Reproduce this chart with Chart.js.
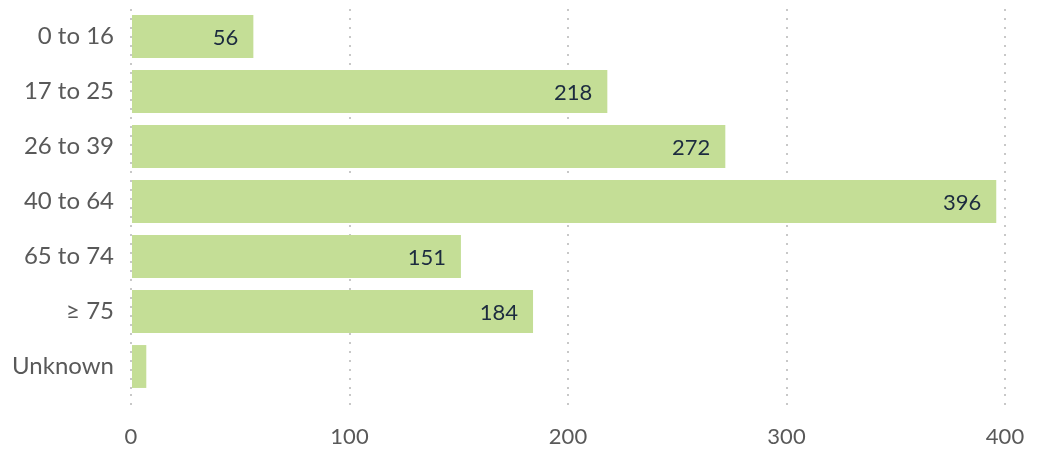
<!DOCTYPE html>
<html><head><meta charset="utf-8">
<script src="https://cdn.jsdelivr.net/npm/chart.js@4/dist/chart.umd.min.js"></script>
<style>html,body{margin:0;padding:0;background:#fff}#wrap{width:1040px;height:452px}</style>
</head><body><div id="wrap"><canvas id="c"></canvas></div>
<script>
const categories = ["0 to 16","17 to 25","26 to 39","40 to 64","65 to 74","\u2265 75","Unknown"];
const values = [56,218,272,396,151,184,7];
const xTicks = [0,100,200,300,400];

const FONT = "Lato, 'Open Sans', sans-serif";
const valueLabels = {
  id:'valueLabels',
  afterDatasetsDraw(chart){
    const ctx = chart.ctx;
    const meta = chart.getDatasetMeta(0);
    ctx.save();
    ctx.font = "22px " + FONT;
    ctx.fillStyle = "#1c2b3f";
    ctx.textAlign = "right";
    ctx.textBaseline = "middle";
    meta.data.forEach((bar,i)=>{
      const txt = String(values[i]);
      const w = ctx.measureText(txt).width;
      if (bar.x - bar.base < w + 24) return;
      ctx.fillText(txt, bar.x - 15, bar.y + 1);
    });
    ctx.restore();
  }
};

new Chart(document.getElementById('c'), {
  type:'bar',
  data:{labels:categories, datasets:[{data:values, backgroundColor:'#c4de96', borderWidth:0, barPercentage:0.78, categoryPercentage:1}]},
  options:{
    indexAxis:'y', responsive:true, maintainAspectRatio:false, animation:false,
    layout:{padding:{top:9,right:35,left:12,bottom:0}},
    plugins:{legend:{display:false}, tooltip:{enabled:false}},
    scales:{
      x:{min:0,max:400,
         afterBuildTicks(axis){axis.ticks = xTicks.map(v=>({value:v}));},
         afterFit(axis){axis.height = 58; axis.paddingLeft=0;},
         border:{display:false, dash:[2,7]},
         grid:{color:'#c8c8c8', lineWidth:2, tickLength:18, drawTicks:true, tickColor:'#c8c8c8', tickBorderDash:[2,7], tickWidth:2},
         ticks:{color:'#595959', font:{family:FONT,size:22}, padding:12}},
      y:{border:{display:false}, grid:{display:false, drawTicks:false},
         afterFit(axis){axis.paddingTop=0; axis.paddingBottom=0; axis.width=119;},
         ticks:{color:'#595959', font:{family:FONT,size:24}, padding:17}}
    }
  },
  plugins:[valueLabels]
});
</script></body></html>
